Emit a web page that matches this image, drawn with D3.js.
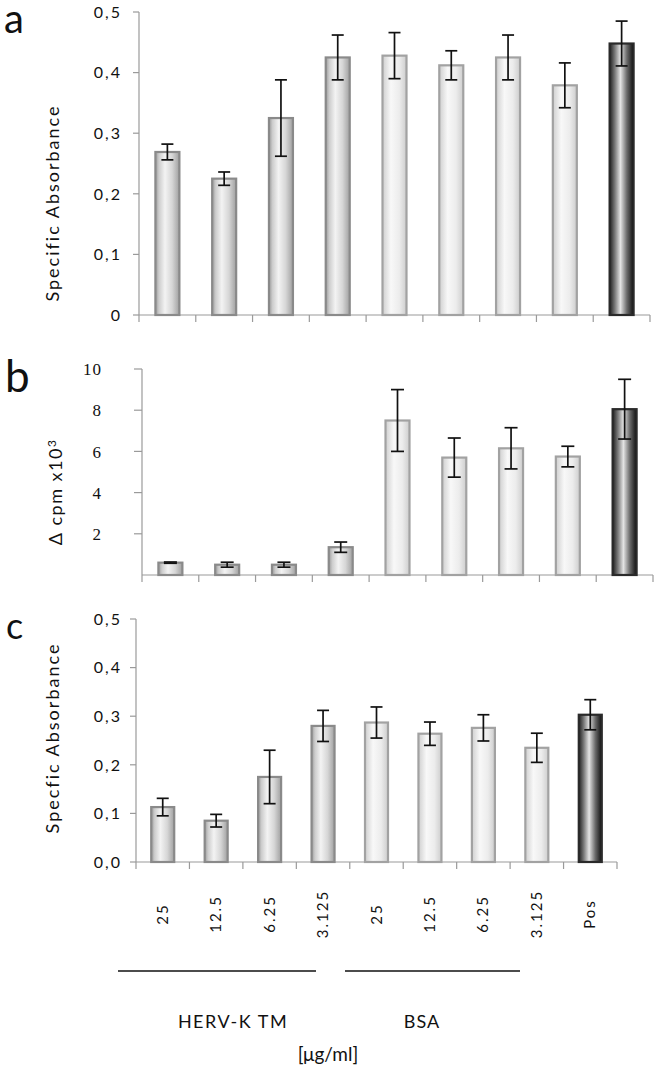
<!DOCTYPE html>
<html>
<head>
<meta charset="utf-8">
<script src="https://cdn.jsdelivr.net/npm/d3@7"></script>
<style>
  body { margin: 0; background: #fff; }
  svg { display: block; }
  text { font-family: Lato, "Open Sans", sans-serif; fill: #111; }
</style>
</head>
<body>
<svg id="chart" width="662" height="1074"></svg>
<script>
// ---- data ----
const categories = ["25", "12.5", "6.25", "3.125", "25", "12.5", "6.25", "3.125", "Pos"];
const groups = ["herv", "herv", "herv", "herv", "bsa", "bsa", "bsa", "bsa", "pos"];

const absorbanceA = [0.269, 0.225, 0.325, 0.425, 0.428, 0.412, 0.425, 0.379, 0.448];
const errorA      = [0.013, 0.011, 0.063, 0.037, 0.038, 0.024, 0.037, 0.037, 0.037];

const cpmB   = [0.6, 0.5, 0.5, 1.35, 7.5, 5.7, 6.15, 5.75, 8.05];
const errorB = [0.03, 0.12, 0.12, 0.25, 1.5, 0.95, 1.0, 0.5, 1.45];

const absorbanceC = [0.113, 0.085, 0.175, 0.280, 0.287, 0.264, 0.276, 0.235, 0.303];
const errorC      = [0.018, 0.013, 0.055, 0.032, 0.032, 0.024, 0.027, 0.030, 0.031];

const ticksA = [0, 0.1, 0.2, 0.3, 0.4, 0.5];
const tickLabelsA = ["0", "0,1", "0,2", "0,3", "0,4", "0,5"];
const ticksB = [2, 4, 6, 8, 10];
const tickLabelsB = ["2", "4", "6", "8", "10"];
const ticksC = [0, 0.1, 0.2, 0.3, 0.4, 0.5];
const tickLabelsC = ["0,0", "0,1", "0,2", "0,3", "0,4", "0,5"];

const groupLabels = ["HERV-K TM", "BSA"];
const unitLabel = "[μg/ml]";

// ---- drawing ----
const svg = d3.select("#chart");
const defs = svg.append("defs");

function gradient(id, stops) {
  const g = defs.append("linearGradient").attr("id", id)
    .attr("x1", "0%").attr("x2", "100%").attr("y1", "0%").attr("y2", "0%");
  stops.forEach(([o, c]) => g.append("stop").attr("offset", o).attr("stop-color", c));
}
gradient("g-herv", [["0%", "#9a9a9a"], ["15%", "#cdcdcd"], ["40%", "#f3f3f3"], ["70%", "#d6d6d6"], ["100%", "#a0a0a0"]]);
gradient("g-bsa", [["0%", "#cfcfcf"], ["35%", "#f8f8f8"], ["70%", "#ececec"], ["100%", "#cdcdcd"]]);
gradient("g-pos", [["0%", "#1e1e1e"], ["22%", "#7a7a7a"], ["45%", "#e4e4e4"], ["72%", "#6a6a6a"], ["100%", "#0e0e0e"]]);

const strokeFor = { herv: "#8a8a8a", bsa: "#a2a2a2", pos: "#2a2a2a" };

function panel(cfg) {
  const idx = categories.map((d, i) => i);
  const x = d3.scaleBand().domain(idx).range([cfg.x0, cfg.x1]).padding(0);
  const y = d3.scaleLinear().domain(cfg.domain).range([cfg.yBottom, cfg.yTop]);
  const g = svg.append("g");

  g.append("line").attr("x1", cfg.x0).attr("x2", cfg.x0)
    .attr("y1", y(cfg.domain[0])).attr("y2", y(cfg.domain[1]))
    .attr("stroke", "#9a9a9a").attr("stroke-width", 1.2);
  cfg.ticks.forEach((t, i) => {
    g.append("line").attr("x1", cfg.x0 - cfg.tickLen).attr("x2", cfg.x0)
      .attr("y1", y(t)).attr("y2", y(t)).attr("stroke", "#9a9a9a").attr("stroke-width", 1.2);
    g.append("text").attr("x", cfg.labelX).attr("y", y(t)).attr("dy", "0.36em")
      .attr("text-anchor", "end")
      .style("font-size", cfg.tickFont + "px")
      .style("font-family", cfg.tickFamily || null)
      .style("letter-spacing", cfg.tickSpacing + "px")
      .text(cfg.tickLabels[i]);
  });
  g.append("line").attr("x1", cfg.x0).attr("x2", cfg.x1)
    .attr("y1", y(0)).attr("y2", y(0)).attr("stroke", "#9a9a9a").attr("stroke-width", 1.2);
  d3.range(categories.length + 1).forEach(i => {
    const xx = cfg.x0 + i * x.step();
    g.append("line").attr("x1", xx).attr("x2", xx)
      .attr("y1", y(0)).attr("y2", y(0) + 7).attr("stroke", "#9a9a9a").attr("stroke-width", 1.2);
  });

  const bw = cfg.barWidth;
  g.selectAll("rect.bar").data(cfg.values).join("rect")
    .attr("class", "bar")
    .attr("x", (d, i) => x(i) + x.bandwidth() / 2 - bw / 2)
    .attr("y", d => y(d))
    .attr("width", bw)
    .attr("height", d => y(0) - y(d))
    .attr("fill", (d, i) => `url(#g-${groups[i]})`)
    .attr("stroke", (d, i) => strokeFor[groups[i]])
    .attr("stroke-width", 2.2);

  const cap = cfg.cap;
  cfg.values.forEach((v, i) => {
    const cx = x(i) + x.bandwidth() / 2;
    const e = cfg.errors[i];
    const yt = y(v + e), yb = y(v - e);
    g.append("line").attr("x1", cx).attr("x2", cx).attr("y1", yt).attr("y2", yb)
      .attr("stroke", "#111").attr("stroke-width", 1.7);
    [yt, yb].forEach(yy => g.append("line")
      .attr("x1", cx - cap / 2).attr("x2", cx + cap / 2).attr("y1", yy).attr("y2", yy)
      .attr("stroke", "#111").attr("stroke-width", 1.7));
  });

  const tg = g.append("text")
    .attr("transform", `translate(${cfg.titleX},${cfg.titleY}) rotate(-90)`)
    .attr("text-anchor", "middle")
    .style("font-size", cfg.titleFont + "px")
    .style("letter-spacing", cfg.titleSpacing + "px");
  cfg.title(tg);

  g.append("text").attr("x", cfg.letterX).attr("y", cfg.letterY)
    .style("font-size", cfg.letterFont + "px")
    .text(cfg.letter);

  return x;
}

panel({
  x0: 139, x1: 650, yBottom: 315, yTop: 12, domain: [0, 0.5],
  ticks: ticksA, tickLabels: tickLabelsA, tickLen: 6, labelX: 122, tickFont: 16, tickSpacing: 2,
  values: absorbanceA, errors: errorA, barWidth: 24, cap: 12,
  titleX: 59, titleY: 203, titleFont: 18, titleSpacing: 2,
  title: t => t.text("Specific Absorbance"),
  letter: "a", letterX: 4, letterY: 33, letterFont: 40
});

panel({
  x0: 142, x1: 653, yBottom: 575, yTop: 369, domain: [0, 10],
  ticks: ticksB, tickLabels: tickLabelsB, tickLen: 8, labelX: 102, tickFont: 17, tickSpacing: 1,
  tickFamily: "'Liberation Serif', serif",
  values: cpmB, errors: errorB, barWidth: 24, cap: 13,
  titleX: 62, titleY: 492, titleFont: 18, titleSpacing: 1.5,
  title: t => {
    t.append("tspan").text("Δ cpm x10");
    t.append("tspan").attr("dy", "-0.5em").style("font-size", "12px").text("3");
  },
  letter: "b", letterX: 5, letterY: 392, letterFont: 44
});

const xC = panel({
  x0: 136, x1: 617, yBottom: 862, yTop: 619, domain: [0, 0.5],
  ticks: ticksC, tickLabels: tickLabelsC, tickLen: 6, labelX: 122, tickFont: 16, tickSpacing: 2,
  values: absorbanceC, errors: errorC, barWidth: 23, cap: 12,
  titleX: 59, titleY: 738, titleFont: 18, titleSpacing: 2,
  title: t => t.text("Specfic Absorbance"),
  letter: "c", letterX: 6, letterY: 639, letterFont: 36
});

categories.forEach((c, i) => {
  const cx = xC(i) + xC.bandwidth() / 2;
  svg.append("text")
    .attr("transform", `translate(${cx + 5},${914}) rotate(-90)`)
    .attr("text-anchor", "middle")
    .style("font-size", "15px")
    .style("letter-spacing", "2px")
    .text(c);
});

svg.append("line").attr("x1", 118).attr("x2", 316).attr("y1", 971).attr("y2", 971)
  .attr("stroke", "#111").attr("stroke-width", 1.7);
svg.append("line").attr("x1", 345).attr("x2", 520).attr("y1", 971).attr("y2", 971)
  .attr("stroke", "#111").attr("stroke-width", 1.7);

svg.append("text").attr("x", 233).attr("y", 1028).attr("text-anchor", "middle")
  .style("font-size", "18px").style("letter-spacing", "1.5px").text(groupLabels[0]);
svg.append("text").attr("x", 422).attr("y", 1028).attr("text-anchor", "middle")
  .style("font-size", "18px").style("letter-spacing", "1px").text(groupLabels[1]);
svg.append("text").attr("x", 328).attr("y", 1061).attr("text-anchor", "middle")
  .style("font-size", "19px").text(unitLabel);
</script>
</body>
</html>
